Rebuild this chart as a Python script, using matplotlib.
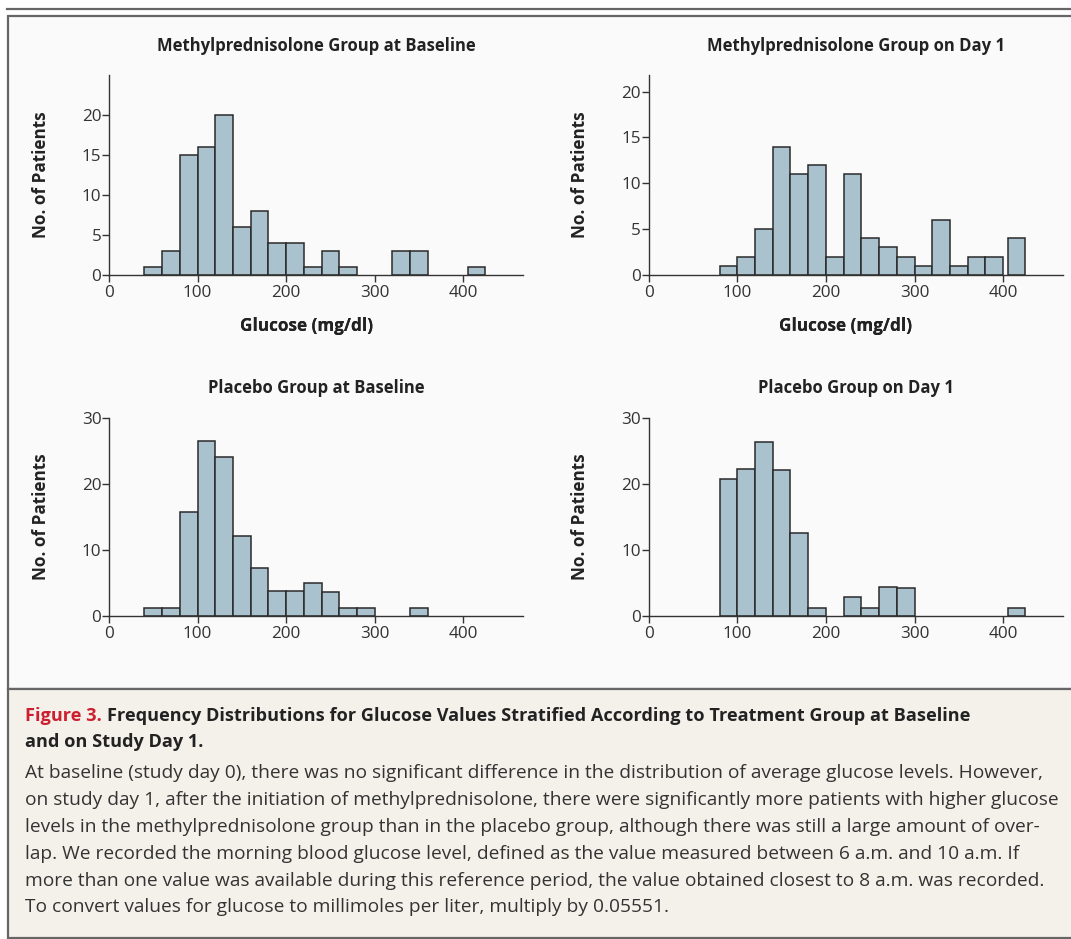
import matplotlib
matplotlib.use("Agg")
import matplotlib.pyplot as plt
from matplotlib.patches import Rectangle
from matplotlib.lines import Line2D

# glucose bin left edges (mg/dl), bins are 20 wide; last bar is the >400 group
mp_base_left = [40, 60, 80, 100, 120, 140, 160, 180, 200, 220, 240, 260, 320, 340, 405]
mp_base_n = [1, 3, 15, 16, 20, 6, 8, 4, 4, 1, 3, 1, 3, 3, 1]

mp_day1_left = [80, 100, 120, 140, 160, 180, 200, 220, 240, 260, 280, 300, 320, 340,
                360, 380, 405]
mp_day1_n = [1, 2, 5, 14, 11, 12, 2, 11, 4, 3, 2, 1, 6, 1, 2, 2, 4]

pl_base_left = [40, 60, 80, 100, 120, 140, 160, 180, 200, 220, 240, 260, 280, 340]
pl_base_n = [1.2, 1.2, 15.7, 26.5, 24.1, 12.1, 7.2, 3.7, 3.7, 4.9, 3.6, 1.2, 1.2, 1.2]

pl_day1_left = [80, 100, 120, 140, 160, 180, 220, 240, 260, 280, 405]
pl_day1_n = [20.8, 22.2, 26.3, 22.1, 12.5, 1.2, 2.8, 1.2, 4.3, 4.2, 1.2]

titles = ["Methylprednisolone Group at Baseline", "Methylprednisolone Group on Day 1",
          "Placebo Group at Baseline", "Placebo Group on Day 1"]
x_ticks = [0, 100, 200, 300, 400]
y_ticks = [[0, 5, 10, 15, 20], [0, 5, 10, 15, 20], [0, 10, 20, 30], [0, 10, 20, 30]]
y_tops = [25, 21.8, 30, 30]

caption_red = "Figure 3."
caption_title = ["Frequency Distributions for Glucose Values Stratified According to Treatment Group at Baseline",
                 "and on Study Day 1."]
caption_body = [
    "At baseline (study day 0), there was no significant difference in the distribution of average glucose levels. However,",
    "on study day 1, after the initiation of methylprednisolone, there were significantly more patients with higher glucose",
    "levels in the methylprednisolone group than in the placebo group, although there was still a large amount of over-",
    "lap. We recorded the morning blood glucose level, defined as the value measured between 6 a.m. and 10 a.m. If",
    "more than one value was available during this reference period, the value obtained closest to 8 a.m. was recorded.",
    "To convert values for glucose to millimoles per liter, multiply by 0.05551.",
]

W, H = 1071, 939
plt.rcParams["font.family"] = ["Open Sans", "DejaVu Sans"]

fig = plt.figure(figsize=(W / 100, H / 100), dpi=100)
fig.patch.set_facecolor("white")


def px(x, y):
    return x / W, 1 - y / H


# frame and caption box (behind the axes)
fig.add_artist(Line2D([7 / W, 1], [1 - 9 / H] * 2, color="#666666", lw=1.6, zorder=-5))
fig.add_artist(Rectangle(px(8, 689), 1.1, (689 - 16) / H, facecolor="#fafafa",
                         edgecolor="#666666", lw=1.6, zorder=-5))
fig.add_artist(Rectangle(px(8, 938), 1.1, (938 - 689) / H, facecolor="#f4f1ea",
                         edgecolor="#666666", lw=1.6, zorder=-5))

boxes = [(109, 75, 523, 275), (648.7, 75, 1063, 275),
         (109, 418, 523, 615.5), (648.7, 418, 1063, 615.5)]
lefts = [mp_base_left, mp_day1_left, pl_base_left, pl_day1_left]
counts = [mp_base_n, mp_day1_n, pl_base_n, pl_day1_n]

for i in range(4):
    x0, y0, x1, y1 = boxes[i]
    ax = fig.add_axes([x0 / W, 1 - y1 / H, (x1 - x0) / W, (y1 - y0) / H])
    ax.patch.set_alpha(0)
    ax.bar(lefts[i], counts[i], width=20, align="edge", color="#aac2ce",
           edgecolor="#2a2a2a", linewidth=1.1, zorder=2)
    ax.set_xlim(0, 467.5)
    ax.set_ylim(0, y_tops[i])
    ax.set_xticks(x_ticks)
    ax.set_yticks(y_ticks[i])
    for s in ["top", "right"]:
        ax.spines[s].set_visible(False)
    for s in ["left", "bottom"]:
        ax.spines[s].set_color("#333333")
        ax.spines[s].set_linewidth(1.0)
        ax.spines[s].set_zorder(3)
    ax.tick_params(direction="out", length=5, width=1.0, color="#333333",
                   labelsize=12.3, labelcolor="#333333")
    ax.tick_params(axis="x", pad=2.5)
    ax.tick_params(axis="y", pad=0.5)
    # panel title centred over the axes
    title_y = 46 if i < 2 else 388
    fig.text((x0 + x1) / 2 / W, 1 - title_y / H, titles[i], fontsize=12,
             fontweight="bold", color="#222222", ha="center", va="center")
    ax.set_xlabel("Glucose (mg/dl)", fontsize=12.3, fontweight="bold", color="#222222")
    ax.xaxis.set_label_coords(0.476, -(326 - y1) / (y1 - y0))
    ax.xaxis.label.set_va("center")
    ax.set_ylabel("No. of Patients", fontsize=12.3, fontweight="bold", color="#222222")
    ax.yaxis.set_label_coords(-(x0 - (41 if i % 2 == 0 else 580)) / (x1 - x0), 0.5)
    ax.yaxis.label.set_va("center")

# caption
renderer = fig.canvas.get_renderer()
t = fig.text(25 / W, 1 - 716 / H, caption_red, fontsize=13.1, fontweight="bold",
             color="#cc1f30", va="center", ha="left")
bb = t.get_window_extent(renderer=renderer)
fig.text((bb.x1 + 5) / W, 1 - 716 / H, caption_title[0], fontsize=13.1,
         fontweight="bold", color="#222222", va="center", ha="left")
fig.text(25 / W, 1 - 742 / H, caption_title[1], fontsize=13.1, fontweight="bold",
         color="#222222", va="center", ha="left")
for k, line in enumerate(caption_body):
    fig.text(25 / W, 1 - (773 + 26.9 * k) / H, line, fontsize=13.75, color="#333333",
             va="center", ha="left")

fig.savefig("out.png", dpi=100, facecolor=fig.get_facecolor())
